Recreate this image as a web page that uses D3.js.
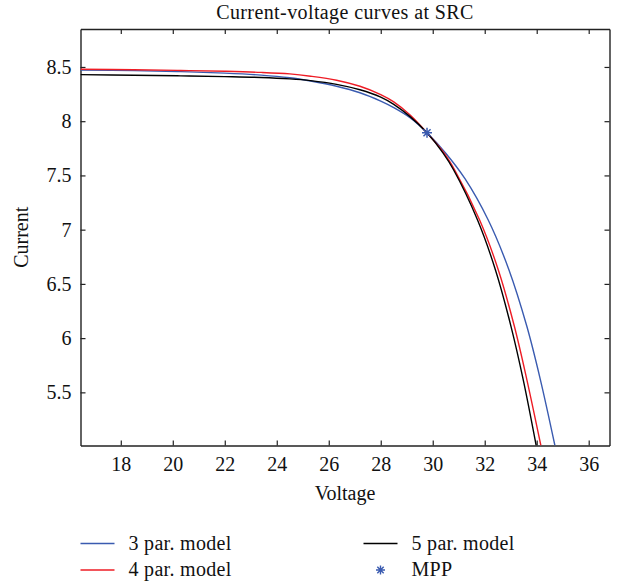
<!DOCTYPE html>
<html>
<head>
<meta charset="utf-8">
<script src="https://cdn.jsdelivr.net/npm/d3@7"></script>
<style>
  body { margin: 0; background: #fff; }
  text { font-family: "Liberation Serif", "DejaVu Serif", serif; fill: #111; }
</style>
</head>
<body>
<svg id="chart" width="618" height="584"></svg>
<script>
// values (voltage V, current A)
let volt3 = [16.45, 18.5, 20.3, 22.0, 23.4, 24.5, 25.3, 26.3, 27.2, 28.0, 28.5, 29.14, 29.78, 30.50, 31.24, 32.13, 32.93, 33.62, 34.14, 34.70];
let curr3 = [8.472, 8.466, 8.457, 8.443, 8.425, 8.400, 8.370, 8.322, 8.262, 8.185, 8.125, 8.030, 7.893, 7.705, 7.470, 7.091, 6.631, 6.109, 5.618, 5.010];

let volt4 = [16.45, 18.5, 20.3, 22.0, 23.4, 24.5, 25.3, 26.3, 27.2, 28.0, 28.5, 29.14, 29.78, 30.44, 30.84, 31.80, 32.52, 33.14, 33.62, 34.16];
let curr4 = [8.479, 8.474, 8.468, 8.460, 8.450, 8.436, 8.415, 8.378, 8.322, 8.245, 8.178, 8.055, 7.893, 7.705, 7.552, 7.091, 6.631, 6.109, 5.618, 5.010];

let volt5 = [16.45, 18.5, 20.3, 22.0, 23.4, 24.5, 25.3, 26.3, 27.2, 28.0, 28.5, 29.14, 29.78, 30.40, 30.80, 31.72, 32.41, 33.01, 33.48, 33.98];
let curr5 = [8.429, 8.424, 8.418, 8.411, 8.403, 8.390, 8.374, 8.340, 8.290, 8.222, 8.155, 8.040, 7.893, 7.705, 7.552, 7.091, 6.631, 6.109, 5.618, 5.010];

let mppV = 29.78;
let mppI = 7.893;

let xTicks = [18, 20, 22, 24, 26, 28, 30, 32, 34, 36];
let yTicks = [5.5, 6, 6.5, 7, 7.5, 8, 8.5];

let series = [
    {name: '3 par. model', v: volt3, i: curr3, color: '#3a5bb0'},
    {name: '4 par. model', v: volt4, i: curr4, color: '#ee1c25'},
    {name: '5 par. model', v: volt5, i: curr5, color: '#000000'},
];

let margin = {left: 80.5, right: 8.5, top: 29, bottom: 138.5};
let width = 618, height = 584;
let x0 = margin.left, x1 = width - margin.right;
let y0 = height - margin.bottom, y1 = margin.top;
let fontSize = 20;

let svg = d3.select('#chart');

let x = d3.scaleLinear().domain([16.45, 36.8]).range([x0, x1]);
let y = d3.scaleLinear().domain([5.01, 8.85]).range([y0, y1]);

let fmt = d => String(d);

// frame axes, ticks point inward
let axisStyle = (g) => {
    g.select('.domain').attr('stroke', '#222').attr('stroke-width', 1.4);
    g.selectAll('.tick line').attr('stroke', '#222').attr('stroke-width', 1.2);
    g.selectAll('.tick text').attr('font-size', fontSize).attr('fill', '#111')
        .attr('font-family', '"Liberation Serif", serif');
};

svg.append('g').attr('transform', `translate(0,${y0})`)
    .call(d3.axisBottom(x).tickValues(xTicks).tickFormat(fmt).tickSize(-5).tickSizeOuter(0).tickPadding(11))
    .call(axisStyle);
svg.append('g').attr('transform', `translate(0,${y1})`)
    .call(d3.axisTop(x).tickValues(xTicks).tickFormat('').tickSize(-5).tickSizeOuter(0))
    .call(axisStyle);
svg.append('g').attr('transform', `translate(${x0},0)`)
    .call(d3.axisLeft(y).tickValues(yTicks).tickFormat(fmt).tickSize(-5).tickSizeOuter(0).tickPadding(9))
    .call(axisStyle);
svg.append('g').attr('transform', `translate(${x1},0)`)
    .call(d3.axisRight(y).tickValues(yTicks).tickFormat('').tickSize(-5).tickSizeOuter(0))
    .call(axisStyle);

svg.append('clipPath').attr('id', 'plot-clip')
    .append('rect').attr('x', x0).attr('y', y1).attr('width', x1 - x0).attr('height', y0 - y1);

let line = d3.line()
    .x(d => x(d[0]))
    .y(d => y(d[1]))
    .curve(d3.curveCatmullRom.alpha(0.5));

let plot = svg.append('g').attr('clip-path', 'url(#plot-clip)');

plot.selectAll('path.curve')
    .data(series)
    .enter()
    .append('path')
    .attr('class', 'curve')
    .attr('fill', 'none')
    .attr('stroke', d => d.color)
    .attr('stroke-width', 1.4)
    .attr('d', d => line(d.v.map((v, k) => [v, d.i[k]])));

// asterisk marker like matlab '*'
let star = (r) => {
    let a = r * Math.SQRT1_2;
    return `M${-r},0L${r},0M0,${-r}L0,${r}M${-a},${-a}L${a},${a}M${-a},${a}L${a},${-a}`;
};

svg.append('path')
    .attr('transform', `translate(${x(mppV)},${y(mppI)})`)
    .attr('d', star(5))
    .attr('stroke', '#3a5bb0')
    .attr('stroke-width', 1.5)
    .attr('fill', 'none');

// title + axis labels
svg.append('text')
    .attr('x', (x0 + x1) / 2).attr('y', 19)
    .attr('text-anchor', 'middle')
    .attr('font-size', fontSize)
    .attr('letter-spacing', 0.4)
    .text('Current-voltage curves at SRC');

svg.append('text')
    .attr('x', (x0 + x1) / 2).attr('y', 500)
    .attr('text-anchor', 'middle')
    .attr('font-size', fontSize)
    .text('Voltage');

svg.append('text')
    .attr('transform', `translate(28,${(y0 + y1) / 2}) rotate(-90)`)
    .attr('text-anchor', 'middle')
    .attr('font-size', fontSize)
    .text('Current');

// legend
let legendItems = [
    {name: series[0].name, color: series[0].color, kind: 'line', lx: 80.5, ly: 543.5},
    {name: series[1].name, color: series[1].color, kind: 'line', lx: 80.5, ly: 570},
    {name: series[2].name, color: series[2].color, kind: 'line', lx: 363.5, ly: 543.5},
    {name: 'MPP', color: '#3a5bb0', kind: 'star', lx: 363.5, ly: 570},
];

let legend = svg.append('g');
legendItems.forEach(d => {
    if (d.kind === 'line') {
        legend.append('line')
            .attr('x1', d.lx).attr('x2', d.lx + 34)
            .attr('y1', d.ly).attr('y2', d.ly)
            .attr('stroke', d.color).attr('stroke-width', 1.4);
    } else {
        legend.append('path')
            .attr('transform', `translate(${d.lx + 17},${d.ly})`)
            .attr('d', star(4.5))
            .attr('stroke', d.color).attr('stroke-width', 1.4).attr('fill', 'none');
    }
    legend.append('text')
        .attr('x', d.lx + 48).attr('y', d.ly + 6)
        .attr('font-size', fontSize)
        .attr('letter-spacing', 0.3)
        .text(d.name);
});
</script>
</body>
</html>
